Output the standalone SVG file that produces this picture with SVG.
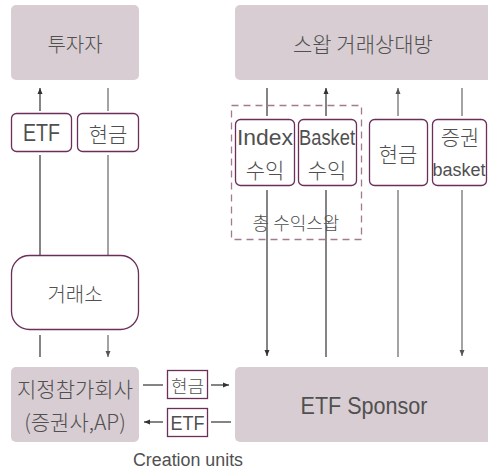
<svg xmlns="http://www.w3.org/2000/svg" width="488" height="471" viewBox="0 0 488 471">
<style>
.fill{fill:#d8cdd2;stroke:none}
.wbox{fill:#fff;stroke:#6b2f5a;stroke-width:1.3}
.sq{fill:#fff;stroke:#6b2f5a;stroke-width:1.3}
.dash{fill:none;stroke:#a47a8f;stroke-width:1.3;stroke-dasharray:7,5}
.ln{stroke:#333;stroke-width:1.2;fill:none}
.lg{stroke:#666;stroke-width:1.2;fill:none}
text{font-family:"Liberation Sans","Noto Sans CJK KR",sans-serif;fill:#505050;text-anchor:middle;dominant-baseline:central}
.k{font-family:"Noto Sans CJK KR","Liberation Sans",sans-serif;font-weight:300}
</style>
<defs>
<marker id="ah" markerUnits="userSpaceOnUse" markerWidth="8" markerHeight="8" refX="6" refY="4" orient="auto">
<path d="M0,1.5 L6,4 L0,6.5 Z" fill="#333"/>
</marker>
<marker id="ahg" markerUnits="userSpaceOnUse" markerWidth="8" markerHeight="8" refX="6" refY="4" orient="auto">
<path d="M0,1.5 L6,4 L0,6.5 Z" fill="#555"/>
</marker>
</defs>
<g id="connectors">
<line class="ln" x1="40" y1="111" x2="40" y2="88" marker-end="url(#ah)"/>
<line class="lg" x1="108" y1="88" x2="108" y2="111"/>
<line class="ln" x1="40" y1="155" x2="40" y2="256"/>
<line class="lg" x1="108" y1="155" x2="108" y2="256"/>
<line class="ln" x1="40" y1="335" x2="40" y2="357"/>
<line class="lg" x1="108" y1="335" x2="108" y2="357" marker-end="url(#ahg)"/>
<line class="ln" x1="267" y1="88" x2="267" y2="116"/>
<line class="ln" x1="267" y1="190" x2="267" y2="356" marker-end="url(#ah)"/>
<line class="ln" x1="326" y1="116" x2="326" y2="88" marker-end="url(#ah)"/>
<line class="ln" x1="326" y1="190" x2="326" y2="357"/>
<line class="lg" x1="398" y1="116" x2="398" y2="88" marker-end="url(#ahg)"/>
<line class="lg" x1="398" y1="190" x2="398" y2="357"/>
<line class="lg" x1="462" y1="88" x2="462" y2="116"/>
<line class="lg" x1="462" y1="190" x2="462" y2="356" marker-end="url(#ahg)"/>
<line class="ln" x1="143" y1="385" x2="163" y2="385"/>
<line class="ln" x1="211" y1="385" x2="229" y2="385" marker-end="url(#ah)"/>
<line class="ln" x1="163" y1="422" x2="144" y2="422" marker-end="url(#ah)"/>
<line class="ln" x1="211" y1="422" x2="231" y2="422"/>
</g>
<g id="investor">
<rect class="fill" x="11" y="5" width="128" height="75" rx="5"/>
<text class="k" x="75" y="43" font-size="20">투자자</text>
</g>
<g id="swap-counterparty">
<rect class="fill" x="235" y="5" width="258" height="75" rx="5"/>
<text class="k" x="363" y="43" font-size="21">스왑 거래상대방</text>
</g>
<g id="etf-label-top">
<rect class="wbox" x="11.5" y="113.5" width="60" height="38" rx="5"/>
<text x="41.5" y="133" font-size="23" textLength="37" lengthAdjust="spacingAndGlyphs">ETF</text>
</g>
<g id="cash-label-top">
<rect class="wbox" x="77.5" y="113.5" width="61" height="38" rx="5"/>
<text class="k" x="108" y="133" font-size="21">현금</text>
</g>
<g id="total-return-swap">
<rect class="dash" x="231.5" y="105.5" width="130" height="134"/>
<text class="k" x="296" y="222" font-size="18">총 수익스왑</text>
</g>
<g id="index-return">
<rect class="wbox" x="235.5" y="119.5" width="59" height="66" rx="5"/>
<text x="265" y="137" font-size="22" textLength="56" lengthAdjust="spacingAndGlyphs">Index</text>
<text class="k" x="265" y="169" font-size="21">수익</text>
</g>
<g id="basket-return">
<rect class="wbox" x="298.5" y="119.5" width="58" height="66" rx="5"/>
<text x="327" y="137" font-size="22" textLength="56" lengthAdjust="spacingAndGlyphs">Basket</text>
<text class="k" x="327" y="169" font-size="21">수익</text>
</g>
<g id="cash-right">
<rect class="wbox" x="369.5" y="119.5" width="58" height="66" rx="5"/>
<text class="k" x="398" y="153" font-size="21">현금</text>
</g>
<g id="securities-basket">
<rect class="wbox" x="432.5" y="119.5" width="54" height="66" rx="5"/>
<text class="k" x="460" y="136" font-size="21">증권</text>
<text x="459" y="170" font-size="18">basket</text>
</g>
<g id="exchange">
<rect class="wbox" x="11.5" y="255.5" width="127" height="74" rx="18"/>
<text class="k" x="75" y="293" font-size="20">거래소</text>
</g>
<g id="authorized-participant">
<rect class="fill" x="11" y="367" width="128" height="75" rx="5"/>
<text class="k" x="75" y="388" font-size="21">지정참가회사</text>
<text class="k" x="75" y="421" font-size="21">(증권사,AP)</text>
</g>
<g id="cash-bottom">
<rect class="sq" x="167.5" y="370.5" width="40" height="28"/>
<text class="k" x="187.5" y="385" font-size="18">현금</text>
</g>
<g id="etf-bottom">
<rect class="sq" x="167.5" y="408.5" width="40" height="28"/>
<text x="187.5" y="422" font-size="21" textLength="34" lengthAdjust="spacingAndGlyphs">ETF</text>
</g>
<g id="etf-sponsor">
<rect class="fill" x="235" y="367" width="258" height="75" rx="5"/>
<text x="364" y="405" font-size="24" textLength="127" lengthAdjust="spacingAndGlyphs">ETF Sponsor</text>
</g>
<g id="creation-units">
<text x="188" y="460" font-size="18" textLength="110" lengthAdjust="spacingAndGlyphs">Creation units</text>
</g>
</svg>
